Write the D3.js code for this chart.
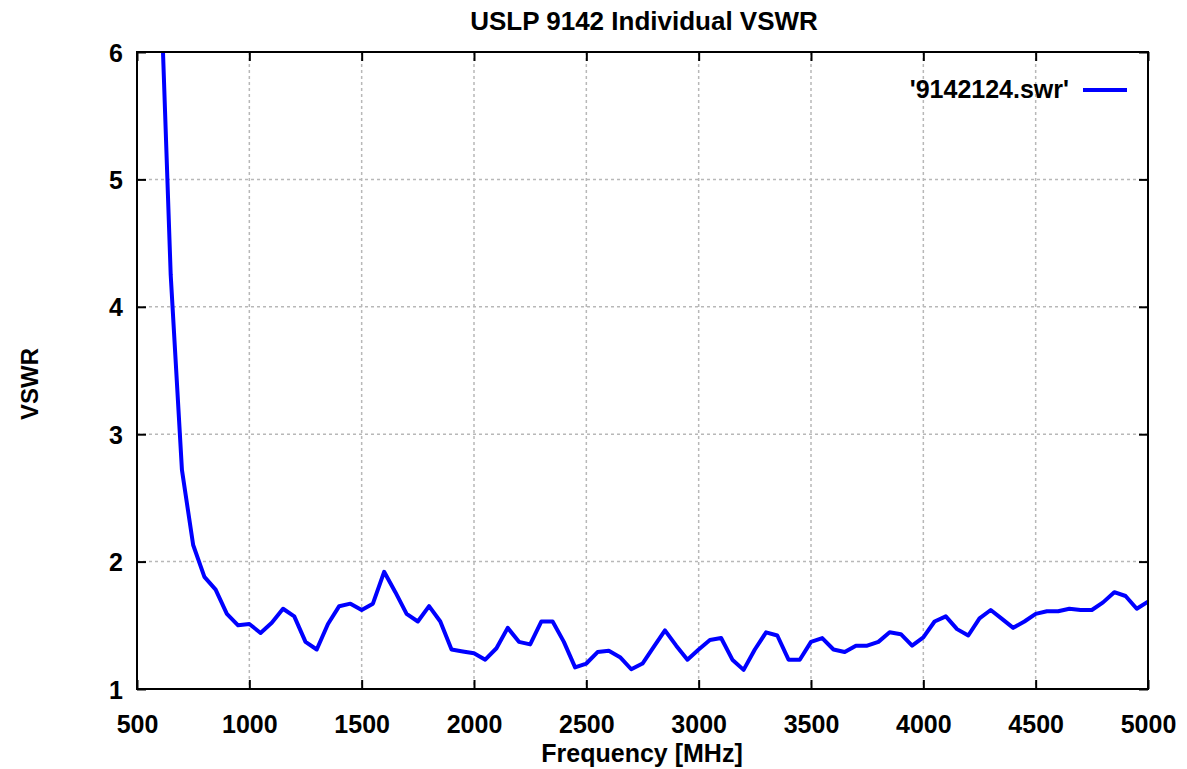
<!DOCTYPE html>
<html>
<head>
<meta charset="utf-8">
<script src="https://cdn.jsdelivr.net/npm/d3@7"></script>
<style>
  html, body { margin: 0; padding: 0; background: #fff; }
  svg text { font-family: "Liberation Sans", Arial, Helvetica, sans-serif; font-weight: bold; fill: #000; }
</style>
</head>
<body>
<svg id="chart" width="1187" height="769"></svg>
<script>
const frequencies = [600,650,700,750,800,850,900,950,1000,1050,1100,1150,1200,1250,1300,1350,1400,1450,1500,1550,1600,1650,1700,1750,1800,1850,1900,1950,2000,2050,2100,2150,2200,2250,2300,2350,2400,2450,2500,2550,2600,2650,2700,2750,2800,2850,2900,2950,3000,3050,3100,3150,3200,3250,3300,3350,3400,3450,3500,3550,3600,3650,3700,3750,3800,3850,3900,3950,4000,4050,4100,4150,4200,4250,4300,4350,4400,4450,4500,4550,4600,4650,4700,4750,4800,4850,4900,4950,5000];
const vswr = [6.8,4.25,2.72,2.13,1.88,1.78,1.59,1.50,1.51,1.44,1.52,1.63,1.57,1.37,1.31,1.51,1.65,1.67,1.62,1.67,1.92,1.76,1.59,1.53,1.65,1.53,1.31,1.295,1.28,1.23,1.32,1.48,1.37,1.35,1.53,1.53,1.37,1.17,1.20,1.29,1.30,1.25,1.155,1.20,1.33,1.46,1.34,1.23,1.31,1.385,1.40,1.23,1.15,1.31,1.445,1.42,1.23,1.23,1.37,1.40,1.31,1.29,1.34,1.34,1.37,1.445,1.43,1.34,1.405,1.53,1.57,1.47,1.42,1.555,1.62,1.55,1.48,1.53,1.59,1.61,1.61,1.63,1.62,1.62,1.68,1.76,1.73,1.63,1.685];
const xTicks = [500,1000,1500,2000,2500,3000,3500,4000,4500,5000];
const yTicks = [1,2,3,4,5,6];
const title = "USLP 9142 Individual VSWR";
const xLabel = "Frequency [MHz]";
const yLabel = "VSWR";
const seriesName = "'9142124.swr'";

const svg = d3.select("#chart");
const L = 137, R = 1148, T = 52, B = 689;
const x = d3.scaleLinear().domain([500, 5000]).range([L, R]);
const y = d3.scaleLinear().domain([1, 6]).range([B, T]);
const FS = 25;

// grid
const grid = svg.append("g").attr("stroke", "#b8b8b8").attr("stroke-width", 1.5).attr("stroke-dasharray", "3,3");
xTicks.slice(1, -1).forEach(t => grid.append("line").attr("x1", x(t)).attr("x2", x(t)).attr("y1", T).attr("y2", B));
yTicks.slice(1, -1).forEach(t => grid.append("line").attr("x1", L).attr("x2", R).attr("y1", y(t)).attr("y2", y(t)));

// data line
svg.append("defs").append("clipPath").attr("id", "clip")
  .append("rect").attr("x", L).attr("y", T).attr("width", R - L).attr("height", B - T);
const data = frequencies.map((f, i) => [f, vswr[i]]);
svg.append("path")
  .datum(data)
  .attr("clip-path", "url(#clip)")
  .attr("fill", "none")
  .attr("stroke", "#0000ff")
  .attr("stroke-width", 4)
  .attr("stroke-linejoin", "round")
  .attr("d", d3.line().x(d => x(d[0])).y(d => y(d[1])));

// axes (ticks inward on all sides)
const tickLen = 9;
const axB = svg.append("g").attr("transform", `translate(0,${B})`)
  .call(d3.axisBottom(x).tickValues(xTicks).tickSize(-tickLen).tickFormat(d3.format("d")));
const axT = svg.append("g").attr("transform", `translate(0,${T})`)
  .call(d3.axisTop(x).tickValues(xTicks).tickSize(-tickLen).tickFormat(""));
const axL = svg.append("g").attr("transform", `translate(${L},0)`)
  .call(d3.axisLeft(y).tickValues(yTicks).tickSize(-tickLen).tickPadding(14).tickFormat(d3.format("d")));
const axR = svg.append("g").attr("transform", `translate(${R},0)`)
  .call(d3.axisRight(y).tickValues(yTicks).tickSize(-tickLen).tickFormat(""));
[axB, axT, axL, axR].forEach(a => {
  a.select(".domain").remove();
  a.selectAll(".tick line").attr("stroke", "#000").attr("stroke-width", 2);
  a.selectAll("text").attr("font-size", FS);
  a.attr("font-family", null).attr("font-size", null);
});
axB.selectAll(".tick text").attr("dy", null).attr("y", 44);
axL.selectAll(".tick text").attr("dy", "0.36em");

// frame
svg.append("rect").attr("x", L).attr("y", T).attr("width", R - L).attr("height", B - T)
  .attr("fill", "none").attr("stroke", "#000").attr("stroke-width", 2);

// titles
svg.append("text").attr("x", 644).attr("y", 30).attr("text-anchor", "middle").attr("font-size", 26).text(title);
svg.append("text").attr("x", 642).attr("y", 762).attr("text-anchor", "middle").attr("font-size", FS).text(xLabel);
svg.append("text").attr("transform", "translate(38,384) rotate(-90)").attr("text-anchor", "middle").attr("font-size", 24).text(yLabel);

// legend
svg.append("text").attr("x", 1069).attr("y", 98).attr("text-anchor", "end").attr("font-size", FS).text(seriesName);
svg.append("line").attr("x1", 1083).attr("x2", 1127).attr("y1", 90).attr("y2", 90)
  .attr("stroke", "#0000ff").attr("stroke-width", 4);
</script>
</body>
</html>
